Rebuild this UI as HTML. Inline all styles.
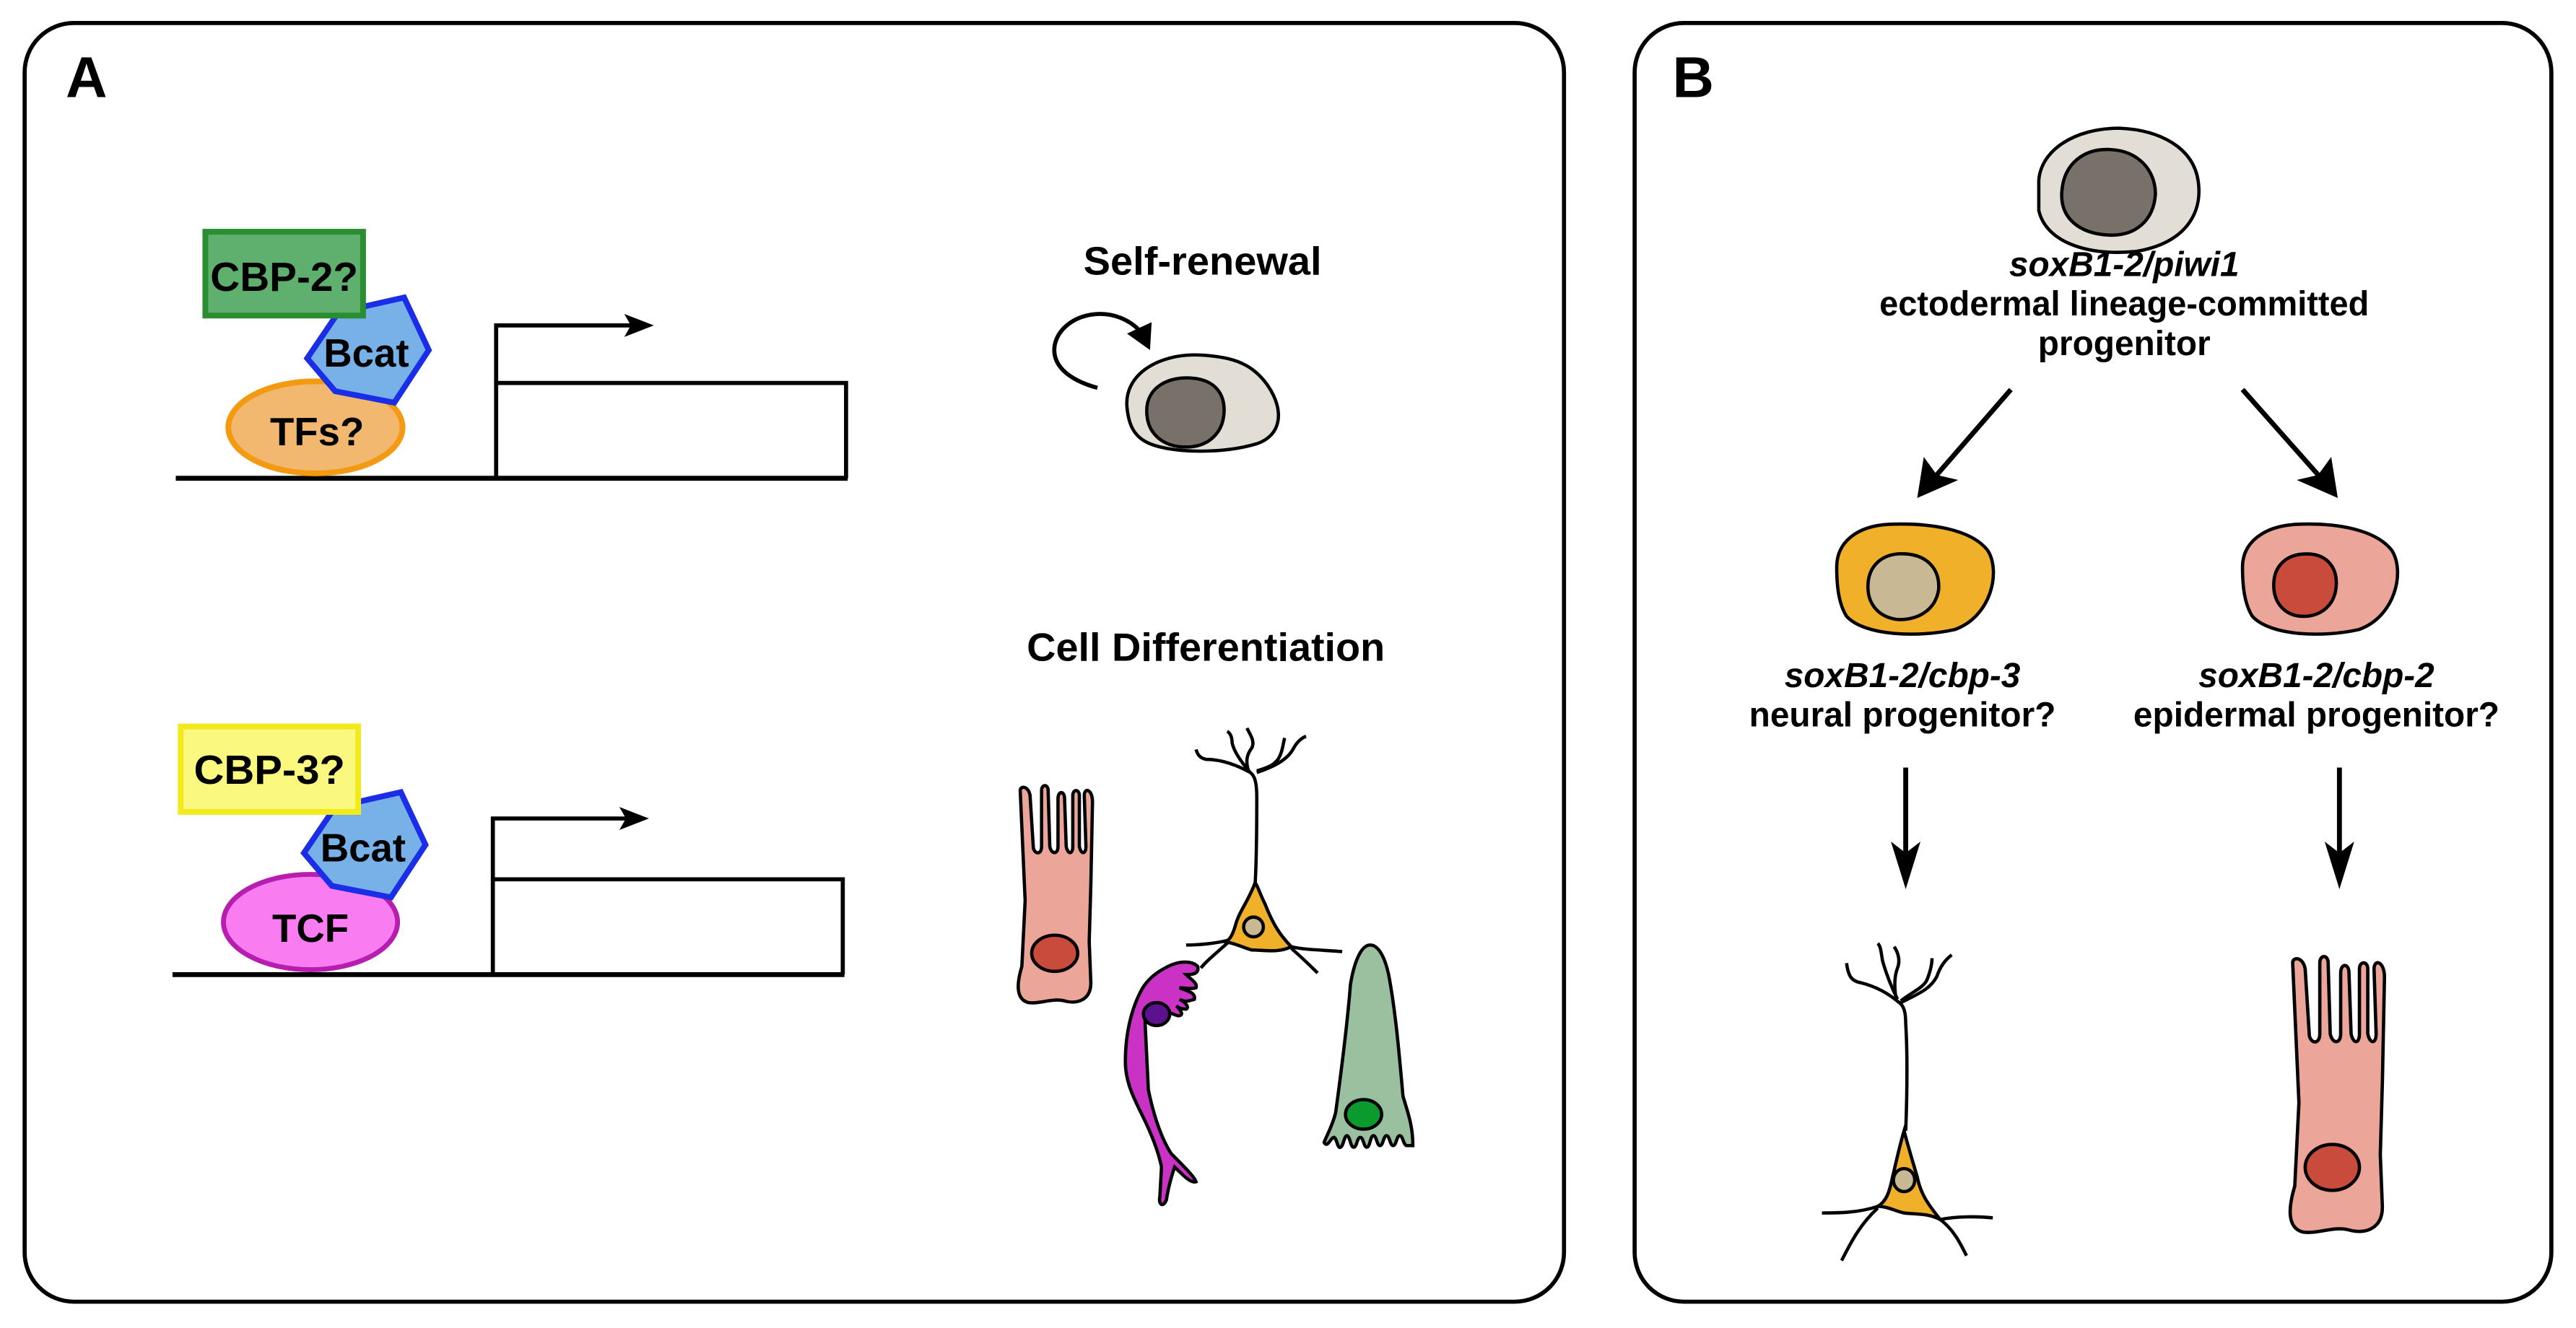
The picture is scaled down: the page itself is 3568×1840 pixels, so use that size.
<!DOCTYPE html>
<html><head><meta charset="utf-8"><style>
html,body{margin:0;padding:0;background:#fff;}
svg{display:block;}
text{font-family:"Liberation Sans",Arial,sans-serif;font-weight:bold;fill:#000;}
</style></head><body>
<svg width="3568" height="1840" viewBox="0 0 1568 808" preserveAspectRatio="none" xmlns="http://www.w3.org/2000/svg">
<!-- panels -->
<rect x="15" y="14" width="937" height="778" rx="30" fill="#fff" stroke="#000" stroke-width="2.5"/>
<rect x="995" y="14" width="558" height="778" rx="30" fill="#fff" stroke="#000" stroke-width="2.5"/>
<text x="40" y="59" font-size="35">A</text>
<text x="1018" y="59" font-size="35">B</text>

<!-- top gene -->
<line x1="107" y1="291" x2="516" y2="291" stroke="#000" stroke-width="3"/>
<polyline points="302,291 302,233 515,233 515,291" fill="none" stroke="#000" stroke-width="2.5"/>
<polyline points="302,233 302,198 386,198" fill="none" stroke="#000" stroke-width="2.5"/>
<path d="M398,198 L380,191 L384,198 L380,205 Z" fill="#000"/>
<ellipse cx="192" cy="260" rx="53" ry="28" fill="#f3b870" stroke="#f39a12" stroke-width="3.5"/>
<polygon points="187,218 206,190 246,181 261,213 240,245 204,238" fill="#78b0e8" stroke="#1a2ee8" stroke-width="3.5"/>
<rect x="125" y="141" width="96" height="51" fill="#5fb06e" stroke="#2a8e30" stroke-width="3.5"/>
<text x="173" y="177" font-size="25" text-anchor="middle" textLength="90" lengthAdjust="spacingAndGlyphs">CBP-2?</text>
<text x="223" y="223" font-size="24" text-anchor="middle">Bcat</text>
<text x="193" y="271" font-size="24" text-anchor="middle">TFs?</text>

<!-- bottom gene -->
<line x1="105" y1="593" x2="514" y2="593" stroke="#000" stroke-width="3"/>
<polyline points="300,593 300,535 513,535 513,593" fill="none" stroke="#000" stroke-width="2.5"/>
<polyline points="300,535 300,498 383,498" fill="none" stroke="#000" stroke-width="2.5"/>
<path d="M395,498 L377,491 L381,498 L377,505 Z" fill="#000"/>
<ellipse cx="189" cy="561" rx="53" ry="29" fill="#f97cf0" stroke="#b61eb0" stroke-width="3"/>
<polygon points="185,519 204,491 244,482 259,514 238,546 202,539" fill="#78b0e8" stroke="#1a2ee8" stroke-width="3.5"/>
<rect x="110" y="442" width="108" height="52" fill="#faf87e" stroke="#f2ea1c" stroke-width="3.5"/>
<text x="164" y="477" font-size="25" text-anchor="middle" textLength="92" lengthAdjust="spacingAndGlyphs">CBP-3?</text>
<text x="221" y="524" font-size="24" text-anchor="middle">Bcat</text>
<text x="189" y="573" font-size="24" text-anchor="middle">TCF</text>

<!-- self renewal -->
<text x="732" y="167" font-size="24" text-anchor="middle" textLength="145" lengthAdjust="spacingAndGlyphs">Self-renewal</text>
<path d="M668,236 C650,231 640,222 642,210 C646,190 680,182 697,205" fill="none" stroke="#000" stroke-width="2.5"/>
<path d="M700,213 L686,203 L701,196 Z" fill="#000"/>
<path d="M686,248 C684,228 705,215 730,216 C752,217 763,222 772,235 C782,250 780,265 765,270 C745,276 715,276 700,270 C690,266 687,258 686,248 Z" fill="#e2ddd5" stroke="#000" stroke-width="2"/>
<path d="M698,250 C698,235 712,229 725,230 C740,231 746,240 745,252 C744,264 735,272 722,272 C708,272 698,264 698,250 Z" fill="#777169" stroke="#000" stroke-width="2"/>

<!-- cell differentiation -->
<text x="734" y="402" font-size="24" text-anchor="middle" textLength="218" lengthAdjust="spacingAndGlyphs">Cell Differentiation</text>

<!-- epithelial cell A -->
<g transform="translate(619,478)">
<path d="M2,3 C2,0 7,0 8,6 L10,38 C11,42 15,42 15,37 L15,3 C15,-1 19,-1 19,3 L20,37 C21,42 25,42 25,37 L25,8 C25,3 29,3 29,8 L30,37 C31,42 34,42 34,37 L34,6 C34,2 38,2 38,6 L38,37 C39,42 42,42 42,37 L41,6 C41,1 46,2 46,10 L45,60 L44,95 L45,120 C45,131 36,133 29,131 C22,129 14,133 7,132 C-1,130 0,120 3,110 L5,70 Z" fill="#eba599" stroke="#000" stroke-width="2"/>
<ellipse cx="23" cy="102" rx="14" ry="11" fill="#c84b3b" stroke="#000" stroke-width="2"/>
</g>

<!-- neuron A -->
<g transform="translate(764,560)" fill="none" stroke="#000" stroke-width="2">
<path d="M0,-22 C1,-40 1,-60 1,-75 C1,-83 0,-88 -3,-90"/>
<path d="M-3,-90 C-10,-94 -20,-98 -30,-98 C-34,-99 -35,-101 -36,-104"/>
<path d="M-3,-90 C-9,-97 -13,-103 -14,-108 C-14,-111 -15,-114 -17,-115"/>
<path d="M-4,-91 C-6,-97 -5,-101 -2,-105 C0,-109 -3,-113 -5,-117"/>
<path d="M1,-91 C8,-93 13,-95 15,-100 C17,-104 17,-108 18,-111"/>
<path d="M1,-90 C10,-93 19,-97 23,-104 C25,-108 28,-111 31,-112"/>
<path d="M-16,12 C-24,14 -34,15 -42,15"/>
<path d="M-16,13 C-26,22 -30,25 -33,29"/>
<path d="M22,16 C30,18 42,18 53,19"/>
<path d="M22,17 C30,24 34,28 38,32"/>
<path d="M0,-23 C-4,-12 -10,-5 -12,3 C-14,10 -16,12 -18,13 C-12,14 -6,17 -2,18 C6,18 14,20 22,16 C14,8 10,0 6,-10 C3,-16 2,-20 0,-23 Z" fill="#f0b02a"/>
<ellipse cx="-1" cy="4" rx="6" ry="6" fill="#c9b894"/>
</g>

<!-- purple cell -->
<g transform="translate(685,598)">
<path d="M26,-10 C32,-13 40,-14 44,-10 C45,-6 42,-5 37,-5 C40,-2 44,0 43,3 C40,4 36,3 33,3 C38,5 43,6 42,10 C39,11 36,12 33,10 C37,12 39,15 37,16 C34,16 32,15 31,14 C34,17 36,20 32,20 C28,19 24,16 18,15 C14,15 12,18 12,24 L14,65 C17,80 22,95 28,104 C36,112 42,118 43,121 C40,122 36,118 30,112 C28,118 26,125 25,132 C23,137 20,135 21,130 L22,112 C20,102 15,90 10,80 C5,70 0,60 0,48 C0,30 4,15 10,4 C14,-3 20,-7 26,-10 Z" fill="#ca32c6" stroke="#000" stroke-width="2"/>
<ellipse cx="19" cy="19" rx="8" ry="7" fill="#5c1290" stroke="#000" stroke-width="2"/>
</g>

<!-- green cell -->
<g transform="translate(806,575)">
<path d="M28,0 C22,0 18,12 16,24 C14,50 10,80 7,102 C5,110 2,115 0,120 C2,124 4,117 6,117 C8,118 8,124 10,123 C12,122 12,116 14,116 C16,117 16,123 18,123 C20,123 20,117 22,117 C24,117 24,123 26,123 C28,123 28,116 30,116 C32,116 32,122 34,122 C36,122 36,116 38,116 C40,116 40,122 42,122 C44,122 44,116 46,116 C48,116 48,121 50,122 L54,122 C54,110 51,102 48,92 C46,70 44,45 40,22 C38,10 34,0 28,0 Z" fill="#9bc09f" stroke="#000" stroke-width="2"/>
<ellipse cx="24" cy="103" rx="11" ry="9" fill="#0a9a2e" stroke="#000" stroke-width="2"/>
</g>

<!-- panel B top cell -->
<path d="M1241,110 C1242,92 1262,78 1290,78 C1315,79 1335,90 1338,110 C1341,130 1330,148 1300,153 C1268,156 1245,146 1241,128 Z" fill="#e2ddd5" stroke="#000" stroke-width="2"/>
<path d="M1255,117 C1256,100 1268,90 1285,91 C1302,92 1312,104 1312,118 C1311,134 1300,144 1283,143 C1266,142 1254,133 1255,117 Z" fill="#777169" stroke="#000" stroke-width="2"/>
<text x="1293" y="168" font-size="21" text-anchor="middle" font-style="italic">soxB1-2/piwi1</text>
<text x="1293" y="192" font-size="21" text-anchor="middle" textLength="298" lengthAdjust="spacingAndGlyphs">ectodermal lineage-committed</text>
<text x="1293" y="216" font-size="21" text-anchor="middle">progenitor</text>

<!-- diagonal arrows -->
<line x1="1224" y1="237" x2="1178" y2="290" stroke="#000" stroke-width="3"/>
<path d="M1167,303 L1171,278 L1179,289 L1192,292 Z" fill="#000"/>
<line x1="1365" y1="237" x2="1412" y2="290" stroke="#000" stroke-width="3"/>
<path d="M1423,303 L1398,292 L1411,289 L1419,278 Z" fill="#000"/>

<!-- orange progenitor -->
<path d="M1118,345 C1118,330 1130,320 1150,319 C1175,318 1200,322 1210,335 C1218,348 1212,375 1190,383 C1168,388 1135,387 1124,375 C1119,367 1118,356 1118,345 Z" fill="#f0b02a" stroke="#000" stroke-width="2"/>
<path d="M1137,357 C1137,344 1146,336 1160,337 C1174,338 1181,347 1180,359 C1178,371 1168,377 1156,377 C1144,376 1137,368 1137,357 Z" fill="#c9b894" stroke="#000" stroke-width="2"/>
<!-- pink progenitor -->
<path d="M1365,345 C1365,330 1378,320 1398,319 C1422,318 1446,322 1456,335 C1464,348 1458,375 1436,383 C1414,388 1382,387 1371,375 C1366,367 1365,356 1365,345 Z" fill="#eba599" stroke="#000" stroke-width="2"/>
<path d="M1384,356 C1384,344 1392,337 1404,337 C1417,337 1423,346 1422,357 C1421,369 1412,375 1402,375 C1391,375 1384,367 1384,356 Z" fill="#c84b3b" stroke="#000" stroke-width="2"/>

<text x="1158" y="418" font-size="21" text-anchor="middle" font-style="italic">soxB1-2/cbp-3</text>
<text x="1158" y="442" font-size="21" text-anchor="middle">neural progenitor?</text>
<text x="1410" y="418" font-size="21" text-anchor="middle" font-style="italic">soxB1-2/cbp-2</text>
<text x="1410" y="442" font-size="21" text-anchor="middle">epidermal progenitor?</text>

<!-- down arrows -->
<line x1="1160" y1="467" x2="1160" y2="520" stroke="#000" stroke-width="3"/>
<path d="M1160,541 L1151,512 L1160,519 L1169,512 Z" fill="#000"/>
<line x1="1424" y1="467" x2="1424" y2="520" stroke="#000" stroke-width="3"/>
<path d="M1424,541 L1415,512 L1424,519 L1433,512 Z" fill="#000"/>

<!-- neuron B -->
<g transform="translate(1159,718)" fill="none" stroke="#000" stroke-width="2">
<path d="M1,-30 C2,-55 2,-80 1,-95 C1,-102 0,-106 -3,-108"/>
<path d="M-3,-108 C-10,-114 -18,-118 -26,-120 C-32,-121 -34,-124 -35,-132"/>
<path d="M-4,-110 C-8,-118 -11,-126 -13,-133 C-14,-138 -14,-142 -16,-144"/>
<path d="M-5,-111 C-6,-118 -6,-124 -4,-129 C-2,-134 -4,-139 -6,-142"/>
<path d="M-2,-109 C4,-114 12,-117 14,-122 C16,-127 17,-131 17,-135"/>
<path d="M-2,-108 C8,-113 16,-116 20,-124 C22,-130 25,-134 29,-137"/>
<path d="M-16,16 C-28,20 -40,20 -50,20"/>
<path d="M-16,17 C-26,26 -32,37 -38,49"/>
<path d="M22,24 C32,22 45,22 54,23"/>
<path d="M22,24 C30,30 34,38 38,46"/>
<path d="M0,-30 C-3,-20 -5,-10 -7,-2 C-9,8 -11,13 -16,16 C-10,16 -5,19 0,20 C8,21 14,20 22,24 C14,14 10,8 8,-2 C5,-12 2,-22 0,-30 Z" fill="#f0b02a"/>
<ellipse cx="0" cy="0" rx="6.5" ry="7" fill="#c9b894"/>
</g>

<!-- epithelial cell B -->
<g transform="translate(1393,582) scale(1.27)">
<path d="M2,3 C2,0 7,0 8,6 L10,38 C11,42 15,42 15,37 L15,3 C15,-1 19,-1 19,3 L20,37 C21,42 25,42 25,37 L25,8 C25,3 29,3 29,8 L30,37 C31,42 34,42 34,37 L34,6 C34,2 38,2 38,6 L38,37 C39,42 42,42 42,37 L41,6 C41,1 46,2 46,10 L45,60 L44,95 L45,120 C45,131 36,133 29,131 C22,129 14,133 7,132 C-1,130 0,120 3,110 L5,70 Z" fill="#eba599" stroke="#000" stroke-width="1.6"/>
<ellipse cx="21" cy="101" rx="13" ry="11" fill="#c84b3b" stroke="#000" stroke-width="1.6"/>
</g>
</svg>
</body></html>
